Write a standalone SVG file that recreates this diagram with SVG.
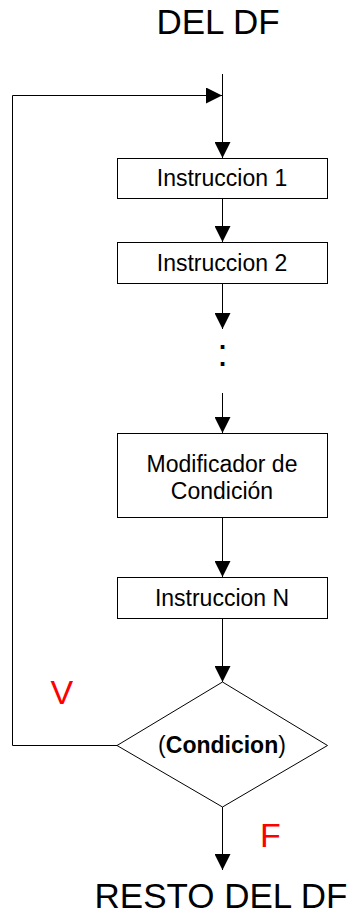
<svg xmlns="http://www.w3.org/2000/svg" width="353" height="918" viewBox="0 0 353 918">
<style>
.box{fill:#fff;stroke:#000;stroke-width:1}
.ln{fill:none;stroke:#000;stroke-width:1}
.t{font-family:"Liberation Sans",Arial,sans-serif;font-size:23px;fill:#000;text-anchor:middle}
.big{font-family:"Liberation Sans",Arial,sans-serif;font-size:35px;fill:#000;text-anchor:middle}
.red{font-family:"Liberation Sans",Arial,sans-serif;font-size:34px;fill:#f00}
</style>
<defs>
<marker id="ah" viewBox="0 0 16 16" refX="16" refY="8" markerWidth="16" markerHeight="16" markerUnits="userSpaceOnUse" orient="auto">
<path d="M0,0 L16,8 L0,16 Z" fill="#000"/>
</marker>
</defs>
<rect width="353" height="918" fill="#fff"/>
<g id="connectors">
<line class="ln" x1="222.5" y1="74" x2="222.5" y2="158" marker-end="url(#ah)"/>
<polyline class="ln" points="117,745.5 12.5,745.5 12.5,95.5 222,95.5" marker-end="url(#ah)"/>
<line class="ln" x1="222.5" y1="199" x2="222.5" y2="242" marker-end="url(#ah)"/>
<line class="ln" x1="222.5" y1="284" x2="222.5" y2="329" marker-end="url(#ah)"/>
<line class="ln" x1="222.5" y1="393" x2="222.5" y2="433" marker-end="url(#ah)"/>
<line class="ln" x1="222.5" y1="518" x2="222.5" y2="577" marker-end="url(#ah)"/>
<line class="ln" x1="222.5" y1="619" x2="222.5" y2="682" marker-end="url(#ah)"/>
<line class="ln" x1="222.5" y1="807" x2="222.5" y2="870" marker-end="url(#ah)"/>
</g>
<g id="start">
<text class="big" x="218" y="34">DEL DF</text>
</g>
<g id="instr1">
<rect class="box" x="117.5" y="158.5" width="210" height="40"/>
<text class="t" x="222" y="186">Instruccion 1</text>
</g>
<g id="instr2">
<rect class="box" x="117.5" y="242.5" width="210" height="41"/>
<text class="t" x="222" y="271">Instruccion 2</text>
</g>
<g id="dots">
<text class="t" x="222.5" y="366" style="font-size:38px">:</text>
</g>
<g id="modificador">
<rect class="box" x="117.5" y="433.5" width="210" height="84"/>
<text class="t" x="222" y="471.5">Modificador de</text>
<text class="t" x="222" y="499">Condición</text>
</g>
<g id="instrN">
<rect class="box" x="117.5" y="577.5" width="210" height="41"/>
<text class="t" x="222" y="606">Instruccion N</text>
</g>
<g id="condicion">
<polygon class="box" points="222.5,682 327.5,745.5 222.5,807 117,745.5"/>
<text class="t" x="222" y="753">(<tspan font-weight="bold">Condicion</tspan>)</text>
</g>
<g id="labels">
<text class="red" x="50.5" y="704">V</text>
<text class="red" x="260" y="847">F</text>
</g>
<g id="end">
<text class="big" x="221" y="908">RESTO DEL DF</text>
</g>
</svg>
